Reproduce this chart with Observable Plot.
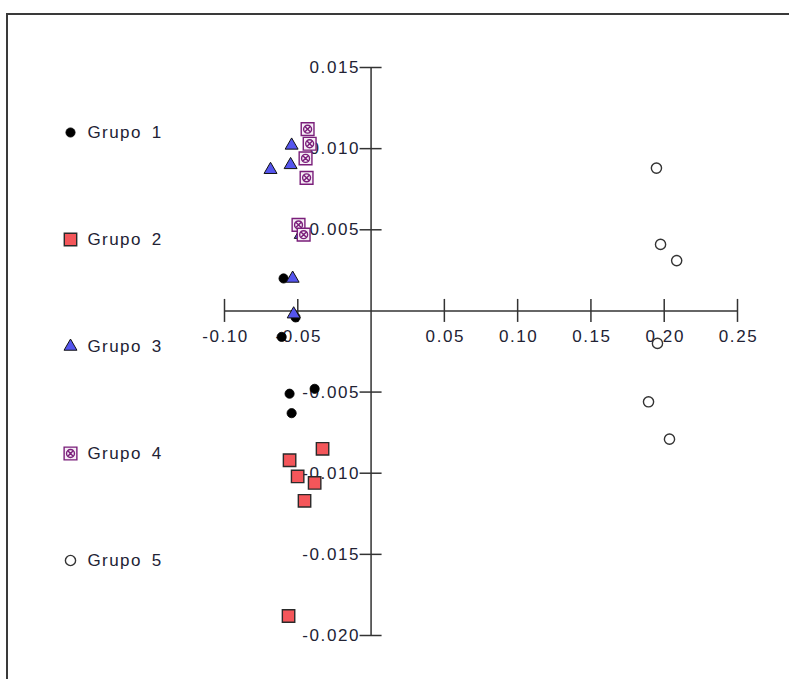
<!DOCTYPE html>
<html>
<head>
<meta charset="utf-8">
<script src="https://cdn.jsdelivr.net/npm/d3@7"></script>
<script src="https://cdn.jsdelivr.net/npm/@observablehq/plot@0.6"></script>
<style>
  html, body { margin: 0; padding: 0; background: #fff; overflow: hidden; }
  #wrap { position: relative; width: 789px; height: 679px; }
  #frame { position: absolute; left: 6px; top: 13px; width: 820px; height: 720px; border: 2px solid #3a3a3a; box-sizing: border-box; }
  #chart, #legend { position: absolute; left: 0; top: 0; }
  svg { overflow: visible; }
  #chart svg text { letter-spacing: 1.6px; }
  #legend svg text { letter-spacing: 1.4px; word-spacing: 4px; }
</style>
</head>
<body>
<div id="wrap">
  <div id="frame"></div>
  <div id="chart"></div>
  <div id="legend"></div>
</div>
<script>
// ---- data ----
const groups = ["Grupo 1", "Grupo 2", "Grupo 3", "Grupo 4", "Grupo 5"];
const g1x = [-0.0597, -0.0515, -0.0610, -0.0556, -0.0385, -0.0542];
const g1y = [ 0.0020, -0.0004, -0.0016, -0.0051, -0.0048, -0.0063];
const g2x = [-0.0563, -0.0331, -0.0556, -0.0501, -0.0385, -0.0454];
const g2y = [-0.0188, -0.0085, -0.0092, -0.0102, -0.0106, -0.0117];
const g3x = [-0.0542, -0.0686, -0.0549, -0.0480, -0.0535, -0.0528];
const g3y = [ 0.0102,  0.0087,  0.0090,  0.0047,  0.0020, -0.0002];
const g4x = [-0.0433, -0.0419, -0.0447, -0.0440, -0.0495, -0.0460];
const g4y = [ 0.0112,  0.0103,  0.0094,  0.0082,  0.0053,  0.0047];
const g5x = [ 0.1947,  0.1975,  0.2085,  0.1954,  0.1893,  0.2036];
const g5y = [ 0.0088,  0.0041,  0.0031, -0.0020, -0.0056, -0.0079];
const xTicks = [-0.10, -0.05, 0.05, 0.10, 0.15, 0.20, 0.25];
const xTickLabels = ["-0.10", "-0.05", "0.05", "0.10", "0.15", "0.20", "0.25"];
const yTicks = [0.015, 0.010, 0.005, -0.005, -0.010, -0.015, -0.020];
const yTickLabels = ["0.015", "0.010", "0.005", "-0.005", "-0.010", "-0.015", "-0.020"];

const seriesX = [g1x, g2x, g3x, g4x, g5x];
const seriesY = [g1y, g2y, g3y, g4y, g5y];

// ---- styles ----
const boxX = {
  draw(ctx, size) {
    const s = Math.sqrt(size) / 2;
    ctx.moveTo(-s, -s); ctx.lineTo(s, -s); ctx.lineTo(s, s); ctx.lineTo(-s, s); ctx.closePath();
    const r = s * 0.62;
    ctx.moveTo(r, 0); ctx.arc(0, 0, r, 0, 2 * Math.PI);
    const d = s * 0.5;
    ctx.moveTo(-d, -d); ctx.lineTo(d, d);
    ctx.moveTo(-d, d); ctx.lineTo(d, -d);
  }
};
const styles = [
  {symbol: "circle", r: 4.6, fill: "#000", stroke: "#000", strokeWidth: 0.8},
  {symbol: "square", r: 7.0, fill: "#f4565a", stroke: "#2a2a2a", strokeWidth: 1.4},
  {symbol: "triangle", r: 4.8, fill: "#5555ee", stroke: "#111", strokeWidth: 1.0},
  {symbol: boxX, r: 7.2, fill: "#f6eef6", stroke: "#7a1e7a", strokeWidth: 1.4},
  {symbol: "circle", r: 5.1, fill: "#fff", stroke: "#333", strokeWidth: 1.4}
];
const font = "'Liberation Sans', Arial, sans-serif";
const textColor = "#222234";

const tableFor = (i) => seriesX[i].map((x, j) => ({x, y: seriesY[i][j]}));

const marks = [
  // axes
  Plot.ruleY([0], {x1: -0.10, x2: 0.25, stroke: "#333", strokeWidth: 1.5}),
  Plot.ruleX([0], {y1: -0.020, y2: 0.015, stroke: "#333", strokeWidth: 1.5}),
  Plot.ruleX(xTicks, {y1: 0, y2: 0, insetTop: -11.5, insetBottom: -11.5, stroke: "#333", strokeWidth: 1.5}),
  Plot.ruleY(yTicks, {x1: 0, x2: 0, insetLeft: -11, insetRight: -11, stroke: "#333", strokeWidth: 1.5}),
  Plot.text(xTicks, {x: d => d, y: 0, text: (d, i) => xTickLabels[i], dy: 26, dx: 1, fill: textColor,
    fontSize: 17, fontFamily: font, textAnchor: "middle"}),
  Plot.text(yTicks, {x: 0, y: d => d, text: (d, i) => yTickLabels[i], dx: -11, fill: textColor,
    fontSize: 17, fontFamily: font, textAnchor: "end"})
];
groups.forEach((g, i) => {
  marks.push(Plot.dot(tableFor(i), {x: "x", y: "y", ...styles[i]}));
});

const chart = Plot.plot({
  width: 789, height: 679,
  marginLeft: 224, marginRight: 52, marginTop: 67, marginBottom: 44,
  x: {domain: [-0.10, 0.25], axis: null},
  y: {domain: [-0.020, 0.015], axis: null},
  style: {background: "transparent", overflow: "visible"},
  marks
});
document.getElementById("chart").appendChild(chart);

// ---- legend ----
const legMarks = [];
groups.forEach((g, i) => {
  legMarks.push(Plot.dot([g], {x: () => 0, y: d => d, ...styles[i]}));
});
legMarks.push(Plot.text(groups, {x: () => 0, y: d => d, text: d => d, dx: 17, textAnchor: "start",
  fill: textColor, fontSize: 17, fontFamily: font}));
const legend = Plot.plot({
  width: 200, height: 679,
  x: {domain: [0, 1], range: [70, 170], axis: null},
  y: {type: "point", domain: groups, range: [132, 560], padding: 0, axis: null},
  style: {background: "transparent", overflow: "visible"},
  marks: legMarks
});
document.getElementById("legend").appendChild(legend);
</script>
</body>
</html>
